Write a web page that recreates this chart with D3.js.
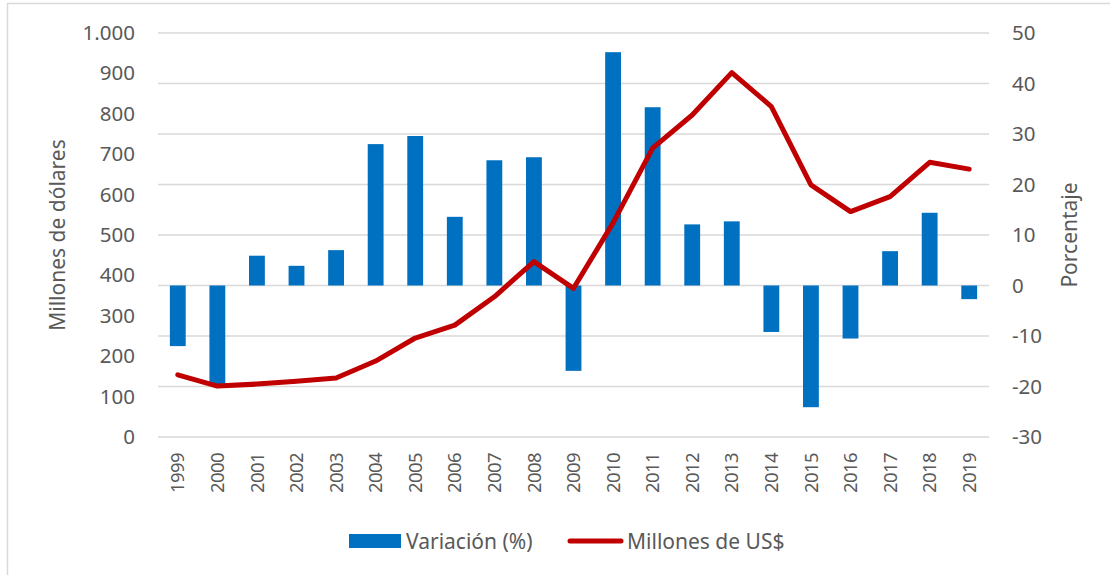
<!DOCTYPE html>
<html>
<head>
<meta charset="utf-8">
<title>Millones de US$ y variación</title>
<script src="https://d3js.org/d3.v7.min.js"></script>
<style>
  body { margin: 0; background: #fff; }
  text { font-family: "Noto Sans", "Open Sans", sans-serif; fill: #595959; }
</style>
</head>
<body>
<script>

// data
var years = ["1999","2000","2001","2002","2003","2004","2005","2006","2007","2008","2009",
             "2010","2011","2012","2013","2014","2015","2016","2017","2018","2019"];
var variacion = [-12.0, -19.7, 5.9, 3.9, 7.0, 28.0, 29.6, 13.6, 24.8, 25.4, -16.9,
                 46.2, 35.3, 12.1, 12.7, -9.2, -24.1, -10.5, 6.8, 14.4, -2.7];
var millones = [154, 126, 131, 138, 146, 188, 245, 277, 347, 434, 368,
                530, 715, 797, 902, 818, 624, 558, 595, 680, 663];
var leftTicks = [0, 100, 200, 300, 400, 500, 600, 700, 800, 900, 1000];
var rightTicks = [-30, -20, -10, 0, 10, 20, 30, 40, 50];

var W = 1110, H = 575;
var plot = { left: 158, right: 989, top: 33, bottom: 437 };

var svg = d3.select("body").append("svg")
    .attr("width", W)
    .attr("height", H);

// chart area border
svg.append("rect")
    .attr("x", 7.5).attr("y", 3.5)
    .attr("width", W + 20).attr("height", H + 20)
    .attr("fill", "none")
    .attr("stroke", "#d9d9d9")
    .attr("stroke-width", 1.5);

var x = d3.scaleBand()
    .domain(years)
    .range([plot.left, plot.right])
    .paddingInner(0.6)
    .paddingOuter(0.3);

var yLeft = d3.scaleLinear().domain([0, 1000]).range([plot.bottom, plot.top]);
var yRight = d3.scaleLinear().domain([-30, 50]).range([plot.bottom, plot.top]);

// gridlines follow the secondary axis
svg.append("g").attr("class", "grid")
    .selectAll("line")
    .data(rightTicks)
    .enter().append("line")
    .attr("x1", plot.left).attr("x2", plot.right)
    .attr("y1", d => yRight(d)).attr("y2", d => yRight(d))
    .attr("stroke", "#d9d9d9")
    .attr("stroke-width", 1.5);

// left axis
var leftAxis = d3.axisLeft(yLeft)
    .tickValues(leftTicks)
    .tickSize(0)
    .tickPadding(0)
    .tickFormat(d => d3.format(",")(d).replace(",", "."));

svg.append("g")
    .attr("transform", "translate(135,0)")
    .call(leftAxis)
    .call(g => g.select(".domain").remove())
    .selectAll("text")
    .style("font-size", "20.5px")
    .attr("fill", "#595959");

// right axis
var rightAxis = d3.axisRight(yRight)
    .tickValues(rightTicks)
    .tickSize(0)
    .tickPadding(0)
    .tickFormat(d => String(d));

svg.append("g")
    .attr("transform", "translate(1012,0)")
    .call(rightAxis)
    .call(g => g.select(".domain").remove())
    .selectAll("text")
    .style("font-size", "20.5px")
    .attr("fill", "#595959");

// bars
svg.append("g").selectAll("rect")
    .data(years)
    .enter().append("rect")
    .attr("x", (d, i) => x(d))
    .attr("width", x.bandwidth())
    .attr("y", (d, i) => yRight(Math.max(0, variacion[i])))
    .attr("height", (d, i) => Math.abs(yRight(variacion[i]) - yRight(0)))
    .attr("fill", "#0070c0");

// line
var line = d3.line()
    .x((d, i) => x(years[i]) + x.bandwidth() / 2)
    .y(d => yLeft(d));

svg.append("path")
    .datum(millones)
    .attr("d", line)
    .attr("fill", "none")
    .attr("stroke", "#c00000")
    .attr("stroke-width", 5)
    .attr("stroke-linejoin", "round")
    .attr("stroke-linecap", "round");

// year labels
svg.append("g").selectAll("text")
    .data(years)
    .enter().append("text")
    .attr("transform", d => "translate(" + (x(d) + x.bandwidth() / 2) + ",453) rotate(-90)")
    .attr("text-anchor", "end")
    .attr("dy", "0.36em")
    .style("font-size", "18.5px")
    .style("letter-spacing", "-0.6px")
    .text(d => d);

// axis titles
svg.append("text")
    .attr("transform", "translate(57,235) rotate(-90)")
    .attr("text-anchor", "middle")
    .attr("dy", "0.36em")
    .style("font-size", "21px")
    .text("Millones de dólares");

svg.append("text")
    .attr("transform", "translate(1069,235) rotate(-90)")
    .attr("text-anchor", "middle")
    .attr("dy", "0.36em")
    .style("font-size", "21px")
    .text("Porcentaje");

// legend
var legend = svg.append("g");
legend.append("rect")
    .attr("x", 349).attr("y", 534)
    .attr("width", 52).attr("height", 14)
    .attr("fill", "#0070c0");
legend.append("text")
    .attr("x", 406).attr("y", 541)
    .attr("dy", "0.36em")
    .style("font-size", "21px")
    .text("Variación (%)");
legend.append("line")
    .attr("x1", 570).attr("x2", 621)
    .attr("y1", 541).attr("y2", 541)
    .attr("stroke", "#c00000")
    .attr("stroke-width", 5)
    .attr("stroke-linecap", "round");
legend.append("text")
    .attr("x", 627).attr("y", 541)
    .attr("dy", "0.36em")
    .style("font-size", "21px")
    .text("Millones de US$");

</script>
</body>
</html>
